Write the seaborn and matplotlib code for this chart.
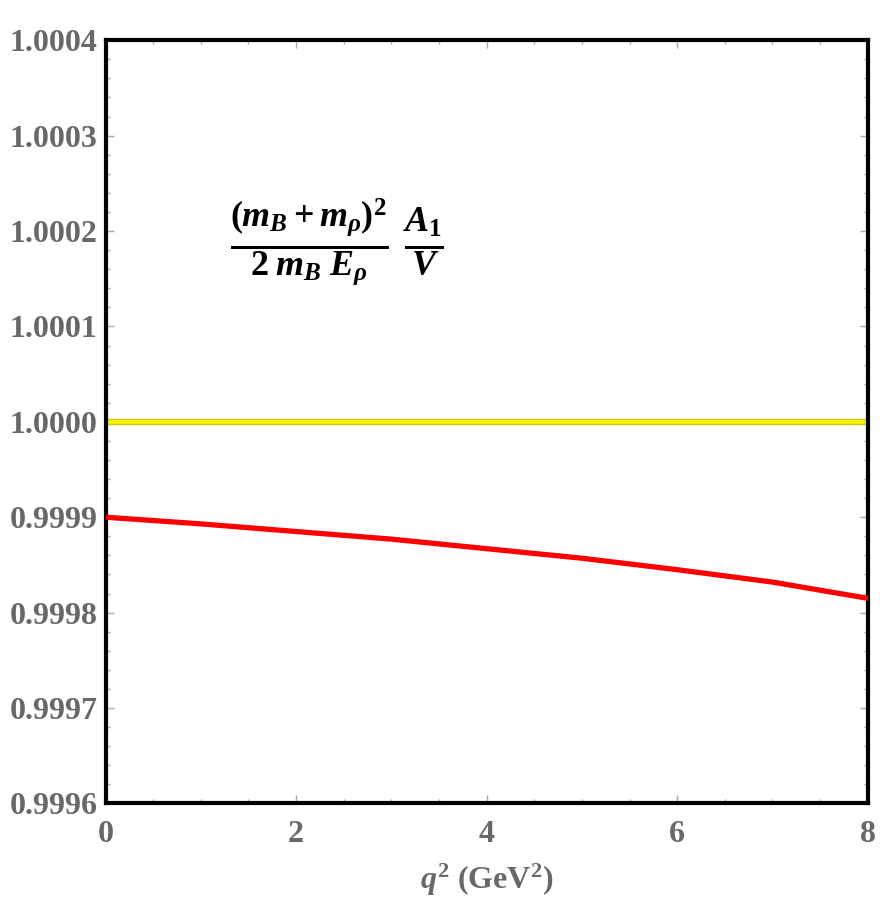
import numpy as np
import matplotlib
matplotlib.use('Agg')
import matplotlib.pyplot as plt
import seaborn as sns
import pandas as pd

# red curve: ratio vs q^2
q2 = [0, 1, 2, 3, 4, 5, 6, 7, 8]
ratio = [0.999900, 0.999893, 0.999885, 0.999877, 0.999867, 0.999857, 0.999845, 0.999832, 0.999815]
# yellow band around 1
band_x = [0, 8]
band_lo = [0.9999975, 0.9999975]
band_hi = [1.0000025, 1.0000025]

yticks = [0.9996, 0.9997, 0.9998, 0.9999, 1.0000, 1.0001, 1.0002, 1.0003, 1.0004]
xticks = [0, 2, 4, 6, 8]

sns.set_style("white")
plt.rcParams['font.family'] = ['Liberation Serif', 'DejaVu Serif']
plt.rcParams['mathtext.fontset'] = 'custom'
plt.rcParams['mathtext.it'] = 'Liberation Serif:italic:bold'
plt.rcParams['mathtext.rm'] = 'Liberation Serif:bold'
plt.rcParams['mathtext.bf'] = 'Liberation Serif:bold'

fig, ax = plt.subplots(figsize=(8.8, 9.15), dpi=100)
fig.subplots_adjust(left=0.12, right=0.986, top=0.956, bottom=0.122)

ax.fill_between(band_x, band_lo, band_hi, color='#f5f500', edgecolor='#c8c820', lw=1, zorder=2)
df = pd.DataFrame({'q2': q2, 'ratio': ratio})
sns.lineplot(data=df, x='q2', y='ratio', color='#ff0000', lw=3.8, ax=ax, zorder=3)

ax.set_xlim(0, 8)
ax.set_ylim(0.9996, 1.0004)
ax.set_xticks(xticks)
ax.set_xticklabels([str(v) for v in xticks])
ax.set_yticks(yticks)
ax.set_yticklabels([f"{v:.4f}" for v in yticks])
ax.set_xticks(np.arange(0, 8.01, 0.5), minor=True)
ax.set_yticks(np.arange(0.9996, 1.00041, 0.00002), minor=True)

gray = '#686868'
for lab in ax.get_xticklabels() + ax.get_yticklabels():
    lab.set_fontweight('bold')
    lab.set_color(gray)
    lab.set_fontsize(23)
ax.tick_params(axis='both', which='both', direction='in', color='#aaaaaa',
               top=True, right=True, bottom=True, left=True)
ax.tick_params(which='major', length=6, width=1)
ax.tick_params(which='minor', length=3, width=1)
ax.tick_params(axis='x', pad=12)
ax.tick_params(axis='y', pad=6)

for s in ax.spines.values():
    s.set_color('black')
    s.set_linewidth(3)

ax.set_xlabel(r'$q^2$ (GeV$^2$)', fontsize=23, fontweight='bold', color=gray, labelpad=9)
ax.set_ylabel('')

ax.text(0.303, 0.735, r'$\frac{(m_B+m_\rho)^2}{2\;m_B\;E_\rho}\;\frac{A_1}{V}$',
        transform=ax.transAxes, fontsize=37, color='black', ha='center', va='center')

fig.savefig('out.png', dpi=100)
